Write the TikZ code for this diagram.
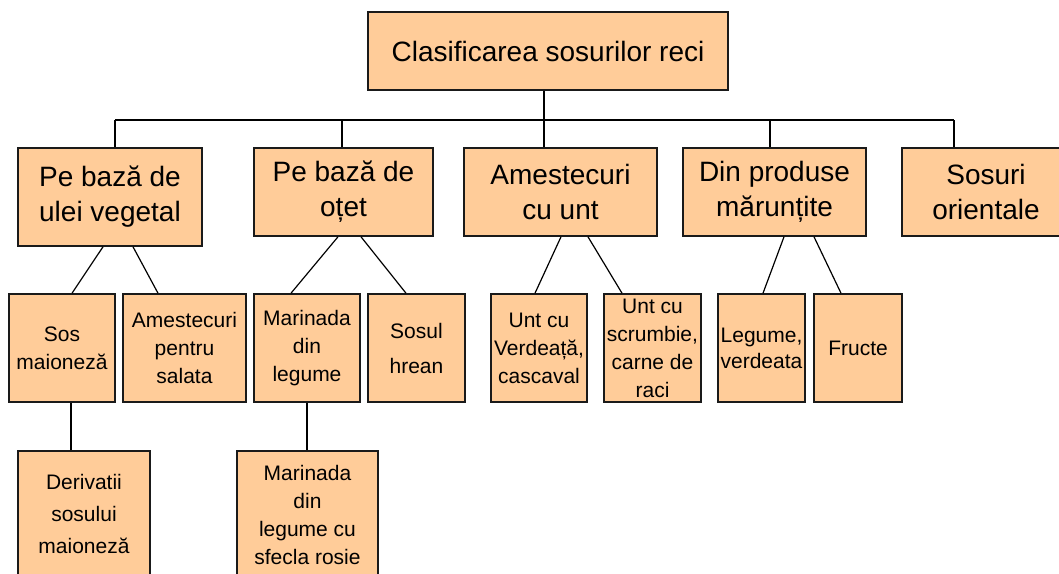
\documentclass[tikz,border=0pt]{standalone}
\usepackage{fontspec}
\setmainfont{Liberation Sans}
\definecolor{peach}{HTML}{FFCC99}
\definecolor{boxline}{HTML}{1A1A1A}
\begin{document}
\begin{tikzpicture}[x=1pt,y=-1pt,
  box/.style={draw=boxline, line width=1.6pt, fill=peach, inner sep=0pt, align=center, anchor=center},
  big/.style={font=\fontsize{28}{35}\selectfont},
  small/.style={font=\fontsize{21}{28}\selectfont},
  conn/.style={draw=black, line width=1.2pt}]
\useasboundingbox (0,0) rectangle (1059,573);
\clip (0,0) rectangle (1059,573);
% top
\node[box, big, minimum width=360, minimum height=78] (top) at (548,51) {Clasificarea sosurilor reci};
% level 1
\node[box, big, minimum width=184, minimum height=98] (b1) at (110,197) {Pe bază de\\ulei vegetal};
\node[box, big, minimum width=179, minimum height=88] (b2) at (343.5,192) {Pe bază de\\oțet};
\node[box, big, minimum width=193, minimum height=88] (b3) at (560.5,192) {Amestecuri\\cu unt};
\node[box, big, minimum width=183, minimum height=88] (b4) at (774.5,192) {Din produse\\mărunțite};
\node[box, big, minimum width=168, minimum height=88] (b5) at (986,192) {Sosuri\\orientale};
% level 2
\node[box, small, minimum width=106, minimum height=108] (s1) at (62,348) {Sos\\maioneză};
\node[box, small, minimum width=123, minimum height=108] (s2) at (184.5,348) {Amestecuri\\pentru\\salata};
\node[box, small, minimum width=106, minimum height=108] (s3) at (307,348) {Marinada\\din\\legume};
\node[box, small, font=\fontsize{21}{35}\selectfont, minimum width=97, minimum height=108] (s4) at (416.5,348) {Sosul\\hrean};
\node[box, small, minimum width=96, minimum height=108] (s5) at (539,348) {Unt cu\\Verdeață,\\cascaval};
\node[box, small, minimum width=97, minimum height=108] (s6) at (652.5,348) {Unt cu\\scrumbie,\\carne de\\raci};
\node[box, small, font=\fontsize{21}{26}\selectfont, minimum width=87, minimum height=108] (s7) at (761.5,348) {Legume,\\verdeata};
\node[box, small, minimum width=88, minimum height=108] (s8) at (858,348) {Fructe};
% level 3
\node[box, small, font=\fontsize{21}{32}\selectfont, minimum width=132, minimum height=125] (t1) at (84,513.5) {Derivatii\\sosului\\maioneză};
\node[box, small, minimum width=141, minimum height=128] (t2) at (307.5,515) {Marinada\\din\\legume cu\\sfecla rosie};
% bus
\coordinate (d1) at (115,120);
\coordinate (d2) at (342,120);
\coordinate (d3) at (544,120);
\coordinate (d4) at (770,120);
\coordinate (d5) at (954,120);
\draw[conn] (d1) -- (d5);
\draw[conn] (top.south -| d3) -- (b3.north -| d3);
\draw[conn] (d1) -- (b1.north -| d1);
\draw[conn] (d2) -- (b2.north -| d2);
\draw[conn] (d4) -- (b4.north -| d4);
\draw[conn] (d5) -- (b5.north -| d5);
% diagonals
\draw[conn] ([xshift=-7pt]b1.south) -- ([xshift=10pt]s1.north);
\draw[conn] ([xshift=23pt]b1.south) -- ([xshift=-26.5pt]s2.north);
\draw[conn] ([xshift=-5.5pt]b2.south) -- ([xshift=-16pt]s3.north);
\draw[conn] ([xshift=17.5pt]b2.south) -- ([xshift=-10.5pt]s4.north);
\draw[conn] ([xshift=0.5pt]b3.south) -- ([xshift=-4pt]s5.north);
\draw[conn] ([xshift=27.5pt]b3.south) -- ([xshift=-30.5pt]s6.north);
\draw[conn] ([xshift=9.5pt]b4.south) -- ([xshift=1.5pt]s7.north);
\draw[conn] ([xshift=39.5pt]b4.south) -- ([xshift=-17pt]s8.north);
% verticals to level 3
\draw[conn] ([xshift=9pt]s1.south) -- ([xshift=9pt]s1.south |- t1.north);
\draw[conn] (s3.south) -- (s3.south |- t2.north);
\end{tikzpicture}
\end{document}
